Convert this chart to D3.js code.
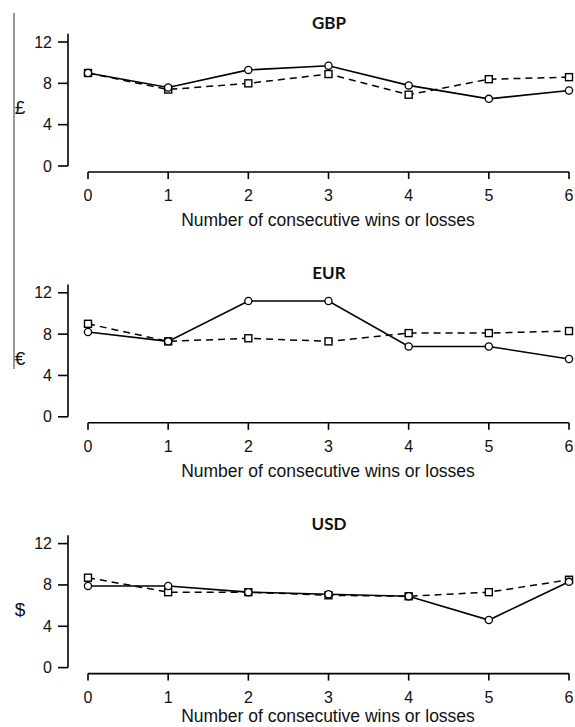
<!DOCTYPE html>
<html>
<head>
<meta charset="utf-8">
<script src="https://cdn.jsdelivr.net/npm/d3@7"></script>
<style>
  body { margin: 0; background: #fff; }
  svg { display: block; }
</style>
</head>
<body>
<svg id="chart" width="575" height="727"></svg>
<script>
// values
var wins = [0, 1, 2, 3, 4, 5, 6];
var yTicks = [0, 4, 8, 12];
var currencies = ["GBP", "EUR", "USD"];
var symbols = ["£", "€", "$"];
var gbpSolid  = [9.0, 7.6, 9.3, 9.7, 7.8, 6.5, 7.3];
var gbpDashed = [9.0, 7.4, 8.0, 8.9, 6.9, 8.4, 8.6];
var eurSolid  = [8.2, 7.3, 11.2, 11.2, 6.8, 6.8, 5.6];
var eurDashed = [9.0, 7.3, 7.6, 7.3, 8.1, 8.1, 8.3];
var usdSolid  = [7.9, 7.9, 7.3, 7.1, 6.9, 4.6, 8.3];
var usdDashed = [8.7, 7.3, 7.3, 7.0, 6.9, 7.3, 8.5];

var solids = [gbpSolid, eurSolid, usdSolid];
var dashes = [gbpDashed, eurDashed, usdDashed];

var svg = d3.select("#chart");

// thin grey rule down the left edge
svg.append("line")
   .attr("x1", 14).attr("x2", 14)
   .attr("y1", 13).attr("y2", 369)
   .attr("stroke", "#777").attr("stroke-width", 1.5);

var x = d3.scaleLinear().domain([0, 6]).range([88, 569]);

currencies.forEach(function(cur, i){
  var top = i * 250.8;
  var y = d3.scaleLinear().domain([0, 12]).range([top + 166, top + 42]);
  var g = svg.append("g");

  // y axis, R style: line runs a little past the top tick
  g.append("line")
   .attr("x1", 68).attr("x2", 68)
   .attr("y1", y(12.8)).attr("y2", y(0))
   .attr("stroke", "#000").attr("stroke-width", 1.6);
  g.selectAll(".ytick").data(yTicks).enter().append("line")
   .attr("x1", 58).attr("x2", 68)
   .attr("y1", function(d){ return y(d); }).attr("y2", function(d){ return y(d); })
   .attr("stroke", "#000").attr("stroke-width", 1.6);
  g.selectAll(".ylab").data(yTicks).enter().append("text")
   .attr("x", 52).attr("y", function(d){ return y(d) + 5.5; })
   .attr("text-anchor", "end")
   .attr("font-family", "Liberation Sans, Arial, sans-serif")
   .attr("font-size", 16).attr("fill", "#111")
   .text(function(d){ return d; });

  // x axis, offset below the plot
  var xa = top + 172;
  g.append("line")
   .attr("x1", x(0)).attr("x2", x(6))
   .attr("y1", xa).attr("y2", xa)
   .attr("stroke", "#000").attr("stroke-width", 1.6);
  g.selectAll(".xtick").data(wins).enter().append("line")
   .attr("x1", function(d){ return x(d); }).attr("x2", function(d){ return x(d); })
   .attr("y1", xa).attr("y2", xa + 7)
   .attr("stroke", "#000").attr("stroke-width", 1.6);
  g.selectAll(".xlab").data(wins).enter().append("text")
   .attr("x", function(d){ return x(d); }).attr("y", xa + 29)
   .attr("text-anchor", "middle")
   .attr("font-family", "Liberation Sans, Arial, sans-serif")
   .attr("font-size", 16).attr("fill", "#111")
   .text(function(d){ return d; });

  // last title sits right at the bottom edge, keep it inside
  g.append("text")
   .attr("x", 328).attr("y", Math.min(top + 226, 722))
   .attr("text-anchor", "middle")
   .attr("font-family", "Liberation Sans, Arial, sans-serif")
   .attr("font-size", 17.5).attr("fill", "#111")
   .text("Number of consecutive wins or losses");

  g.append("text")
   .attr("x", 329).attr("y", top + 28.5)
   .attr("text-anchor", "middle")
   .attr("font-family", "Lato, sans-serif")
   .attr("font-weight", "bold")
   .attr("font-size", 17).attr("fill", "#111")
   .text(cur);

  g.append("text")
   .attr("x", 20).attr("y", top + 114)
   .attr("text-anchor", "middle")
   .attr("font-family", "Liberation Sans, Arial, sans-serif")
   .attr("font-size", 19).attr("fill", "#111")
   .text(symbols[i]);

  var line = d3.line()
    .x(function(d, k){ return x(wins[k]); })
    .y(function(d){ return y(d); });

  g.append("path").datum(dashes[i])
   .attr("d", line).attr("fill", "none")
   .attr("stroke", "#000").attr("stroke-width", 1.5)
   .attr("stroke-dasharray", "7,5");
  g.append("path").datum(solids[i])
   .attr("d", line).attr("fill", "none")
   .attr("stroke", "#000").attr("stroke-width", 1.6);

  g.selectAll(".sq").data(dashes[i]).enter().append("rect")
   .attr("x", function(d, k){ return x(wins[k]) - 3.5; })
   .attr("y", function(d){ return y(d) - 3.5; })
   .attr("width", 7).attr("height", 7)
   .attr("fill", "#fff").attr("stroke", "#000").attr("stroke-width", 1.4);
  g.selectAll(".ci").data(solids[i]).enter().append("circle")
   .attr("cx", function(d, k){ return x(wins[k]); })
   .attr("cy", function(d){ return y(d); })
   .attr("r", 3.6)
   .attr("fill", "#fff").attr("stroke", "#000").attr("stroke-width", 1.3);
});
</script>
</body>
</html>
